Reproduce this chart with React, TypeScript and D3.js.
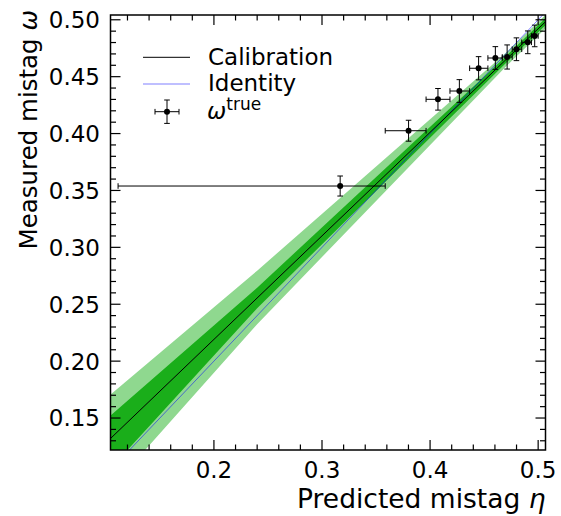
import React from "react";
import * as d3 from "d3";

// ---- data ----
const etaPts = [0.3168, 0.3801, 0.4073, 0.4271, 0.4449, 0.4604, 0.4713, 0.4799, 0.4904, 0.4968];
const omegaPts = [0.3539, 0.4025, 0.4301, 0.4374, 0.4574, 0.4664, 0.4673, 0.4741, 0.4802, 0.4858];
const etaLo = [0.1113, 0.3585, 0.3963, 0.4184, 0.4366, 0.4535, 0.4668, 0.4760, 0.4848, 0.4938];
const etaHi = [0.3585, 0.3963, 0.4184, 0.4366, 0.4535, 0.4668, 0.4760, 0.4848, 0.4938, 0.5000];
const omegaErr = [0.0088, 0.0092, 0.0095, 0.0100, 0.0102, 0.0100, 0.0106, 0.0100, 0.0100, 0.0095];

// calibration omega = p0 + p1 (eta - etaRef)
const calP0 = 0.4466;
const calP1 = 0.91;
const calEtaRef = 0.45;

// uncertainty bands, offsets from the calibration line
const bandEta = [0.10, 0.24, 0.47, 0.51];
const darkUp = [0.0205, 0.009, 0.003, 0.003];
const darkDn = [0.027, 0.009, 0.003, 0.003];
const lightUp = [0.039, 0.024, 0.006, 0.006];
const lightDn = [0.045, 0.023, 0.006, 0.006];

const xTicks = [0.2, 0.3, 0.4, 0.5];
const yTicks = [0.15, 0.2, 0.25, 0.3, 0.35, 0.4, 0.45, 0.5];
const xDomain = [0.1043, 0.5068];
const yDomain = [0.1219, 0.5042];

const FONT = "DejaVu Sans";

export default function App() {
  const L = 110.5, R = 545.5, T = 15, B = 450;
  const x = d3.scaleLinear().domain(xDomain).range([L, R]);
  const y = d3.scaleLinear().domain(yDomain).range([B, T]);
  const cal = (e: number) => calP0 + calP1 * (e - calEtaRef);

  const mk = (up: number[], dn: number[]) =>
    d3
      .area<number>()
      .x((_, i) => x(bandEta[i]))
      .y0((e, i) => y(cal(e) - dn[i]))
      .y1((e, i) => y(cal(e) + up[i]))(bandEta) || "";

  const calLine = d3.line<number>().x((e) => x(e)).y((e) => y(cal(e)))(xDomain) || "";
  const idLine = d3.line<number>().x((e) => x(e)).y((e) => y(e))([0.1, 0.51]) || "";

  const xMinor = d3.range(0.12, 0.5001, 0.02).filter((v) => !xTicks.some((t) => Math.abs(t - v) < 1e-6));
  const yMinor = d3.range(0.13, 0.5001, 0.01).filter((v) => !yTicks.some((t) => Math.abs(t - v) < 1e-6));

  const maj = 10, mnr = 5.5;
  const cap = 2.8;

  return (
    <svg width={561} height={516} style={{ position: "absolute", left: 0, top: 0 }} fontFamily={FONT}>
      <defs>
        <clipPath id="plotclip">
          <rect x={L} y={T} width={R - L} height={B - T} />
        </clipPath>
      </defs>
      <g clipPath="url(#plotclip)">
        <path d={mk(lightUp, lightDn)} fill="#8fd88f" />
        <path d={mk(darkUp, darkDn)} fill="#1aae1a" />
        <path d={idLine} stroke="blue" strokeOpacity={0.5} strokeWidth={1} fill="none" />
        <path d={calLine} stroke="black" strokeWidth={1} fill="none" />
        {etaPts.map((e, i) => (
          <g key={i} stroke="black" strokeWidth={1}>
            <line x1={x(etaLo[i])} x2={x(etaHi[i])} y1={y(omegaPts[i])} y2={y(omegaPts[i])} />
            <line x1={x(etaLo[i])} x2={x(etaLo[i])} y1={y(omegaPts[i]) - cap} y2={y(omegaPts[i]) + cap} />
            <line x1={x(etaHi[i])} x2={x(etaHi[i])} y1={y(omegaPts[i]) - cap} y2={y(omegaPts[i]) + cap} />
            <line x1={x(e)} x2={x(e)} y1={y(omegaPts[i] - omegaErr[i])} y2={y(omegaPts[i] + omegaErr[i])} />
            <line x1={x(e) - cap} x2={x(e) + cap} y1={y(omegaPts[i] - omegaErr[i])} y2={y(omegaPts[i] - omegaErr[i])} />
            <line x1={x(e) - cap} x2={x(e) + cap} y1={y(omegaPts[i] + omegaErr[i])} y2={y(omegaPts[i] + omegaErr[i])} />
            <circle cx={x(e)} cy={y(omegaPts[i])} r={3} fill="black" stroke="none" />
          </g>
        ))}
      </g>

      {/* ticks */}
      <g stroke="black" strokeWidth={1.2}>
        {xTicks.map((t) => (
          <g key={"xt" + t}>
            <line x1={x(t)} x2={x(t)} y1={B} y2={B - maj} />
            <line x1={x(t)} x2={x(t)} y1={T} y2={T + maj} />
          </g>
        ))}
        {xMinor.map((t) => (
          <g key={"xm" + t}>
            <line x1={x(t)} x2={x(t)} y1={B} y2={B - mnr} />
            <line x1={x(t)} x2={x(t)} y1={T} y2={T + mnr} />
          </g>
        ))}
        {yTicks.map((t) => (
          <g key={"yt" + t}>
            <line x1={L} x2={L + maj} y1={y(t)} y2={y(t)} />
            <line x1={R} x2={R - maj} y1={y(t)} y2={y(t)} />
          </g>
        ))}
        {yMinor.map((t) => (
          <g key={"ym" + t}>
            <line x1={L} x2={L + mnr} y1={y(t)} y2={y(t)} />
            <line x1={R} x2={R - mnr} y1={y(t)} y2={y(t)} />
          </g>
        ))}
      </g>
      <rect x={L} y={T} width={R - L} height={B - T} fill="none" stroke="black" strokeWidth={1.5} />

      {/* tick labels */}
      {xTicks.map((t) => (
        <text key={"xl" + t} x={x(t)} y={478} fontSize={23} textAnchor="middle">
          {d3.format(".1f")(t)}
        </text>
      ))}
      {yTicks.map((t) => (
        <text key={"yl" + t} x={100} y={y(t) + 8.4} fontSize={23} textAnchor="end">
          {d3.format(".2f")(t)}
        </text>
      ))}

      {/* axis labels */}
      <text x={R} y={508} fontSize={26.5} textAnchor="end">
        Predicted mistag <tspan fontStyle="italic">η</tspan>
      </text>
      <text transform="translate(37,10) rotate(-90)" fontSize={24.5} textAnchor="end">
        Measured mistag <tspan fontStyle="italic">ω</tspan>
      </text>

      {/* legend */}
      <line x1={143} x2={190} y1={57.3} y2={57.3} stroke="black" strokeWidth={1} />
      <text x={208} y={65} fontSize={23}>Calibration</text>
      <line x1={143} x2={190} y1={84} y2={84} stroke="blue" strokeOpacity={0.5} strokeWidth={1} />
      <text x={208} y={91} fontSize={23}>Identity</text>
      <g stroke="black" strokeWidth={1}>
        <line x1={155} x2={179} y1={111.7} y2={111.7} />
        <line x1={155} x2={155} y1={111.7 - cap} y2={111.7 + cap} />
        <line x1={179} x2={179} y1={111.7 - cap} y2={111.7 + cap} />
        <line x1={167} x2={167} y1={100} y2={123.4} />
        <line x1={167 - cap} x2={167 + cap} y1={100} y2={100} />
        <line x1={167 - cap} x2={167 + cap} y1={123.4} y2={123.4} />
        <circle cx={167} cy={111.7} r={3} fill="black" stroke="none" />
      </g>
      <text x={207} y={118.5} fontSize={23}>
        <tspan fontStyle="italic">ω</tspan>
        <tspan fontSize={17} dy={-8.5}>true</tspan>
      </text>
    </svg>
  );
}
